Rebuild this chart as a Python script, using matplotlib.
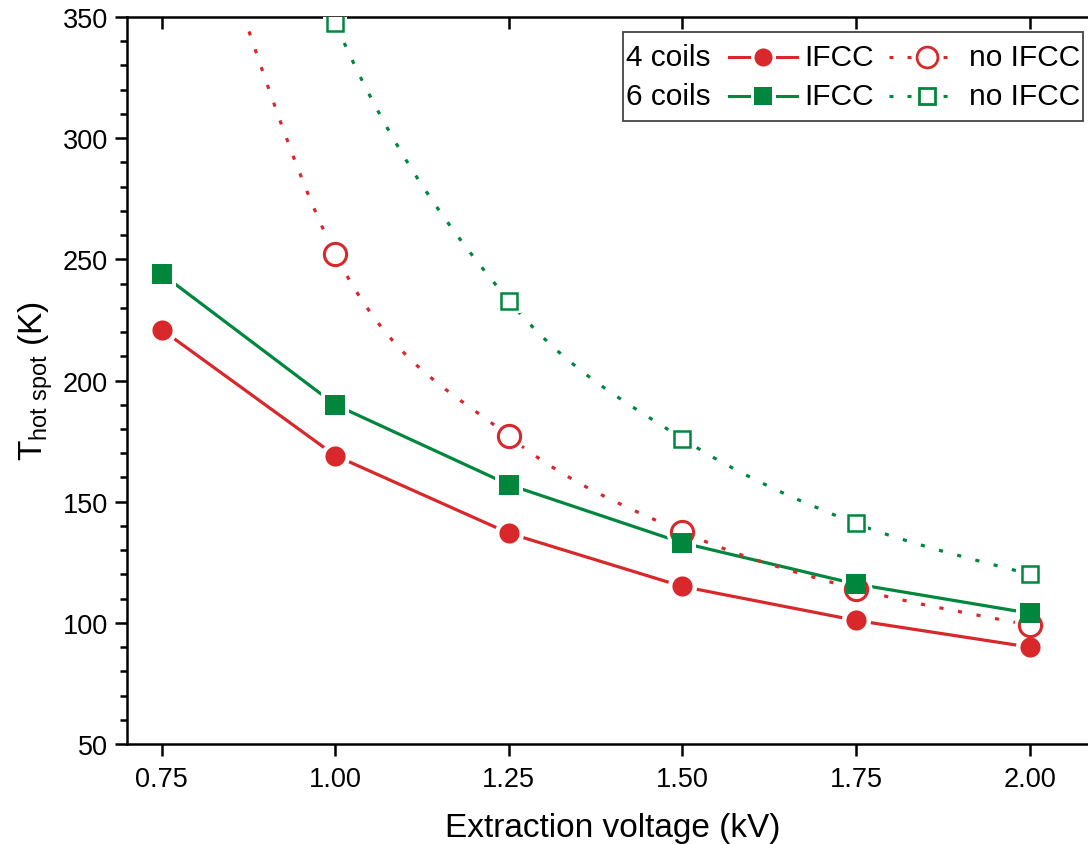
import numpy as np
import matplotlib
matplotlib.use("Agg")
import matplotlib.pyplot as plt
from matplotlib.path import Path
from matplotlib.patches import PathPatch
from matplotlib.lines import Line2D
from matplotlib.ticker import MultipleLocator, FormatStrFormatter
from matplotlib.offsetbox import TextArea, DrawingArea, HPacker, VPacker, AnchoredOffsetbox

plt.rcParams['font.family'] = ['Liberation Sans', 'DejaVu Sans']
plt.rcParams['mathtext.default'] = 'regular'

# data
voltage = [0.75, 1.00, 1.25, 1.50, 1.75, 2.00]
coils4_ifcc = [221, 169, 137, 115, 101, 90]
coils4_no_ifcc = [455, 252, 177, 137.5, 114, 99]
coils6_ifcc = [244, 190, 157, 133, 116, 104]
coils6_no_ifcc = [560, 347.5, 233, 176, 141, 120]

RED = '#d8282b'
GREEN = '#00873d'
DOTS = (0, (1.3, 4.6))


def smooth_path(x, y):
    # catmull-rom curve through the points, as bezier segments
    pts = np.column_stack([np.asarray(x, float), np.asarray(y, float)])
    n = len(pts)
    verts = [pts[0]]
    codes = [Path.MOVETO]
    for i in range(n - 1):
        p0 = pts[max(i - 1, 0)]
        p1 = pts[i]
        p2 = pts[i + 1]
        p3 = pts[min(i + 2, n - 1)]
        verts += [p1 + (p2 - p0) / 6, p2 - (p3 - p1) / 6, p2]
        codes += [Path.CURVE4] * 3
    return Path(verts, codes)


fig = plt.figure(figsize=(10.88, 8.45), dpi=100)
ax = fig.add_axes([127 / 1088, 100 / 845, (1099 - 127) / 1088, (745 - 18) / 845])

# lines
ax.plot(voltage, coils4_ifcc, color=RED, lw=2.3, zorder=2)
ax.plot(voltage, coils6_ifcc, color=GREEN, lw=2.3, zorder=2)
for yv, c in [(coils4_no_ifcc, RED), (coils6_no_ifcc, GREEN)]:
    ax.add_patch(PathPatch(smooth_path(voltage, yv), fill=False, edgecolor=c,
                           lw=2.3, linestyle=DOTS, zorder=2))

# white halos -> gaps between lines and symbols
ax.plot(voltage, coils4_ifcc, 'o', ms=21, color='white', mew=0, zorder=3)
ax.plot(voltage, coils6_ifcc, 's', ms=20, color='white', mew=0, zorder=3)
ax.plot(voltage, coils4_no_ifcc, 'o', ms=23, color='white', mew=0, zorder=3)
ax.plot(voltage, coils6_no_ifcc, 's', ms=17, color='white', mew=0, zorder=3)

# symbols
ax.plot(voltage, coils6_no_ifcc, 's', ms=11, mfc='white', mec=GREEN, mew=1.8, zorder=4)
ax.plot(voltage, coils4_no_ifcc, 'o', ms=16, mfc='white', mec=RED, mew=2.2, zorder=4)
ax.plot(voltage, coils4_ifcc, 'o', ms=14.5, color=RED, mew=0, zorder=5)
ax.plot(voltage, coils6_ifcc, 's', ms=14.5, color=GREEN, mew=0, zorder=5)

ax.set_xlim(0.7, 2.1)
ax.set_ylim(50, 350)
ax.set_xticks(voltage)
ax.xaxis.set_major_formatter(FormatStrFormatter('%.2f'))
ax.yaxis.set_major_locator(MultipleLocator(50))
ax.yaxis.set_minor_locator(MultipleLocator(10))

for s in ax.spines.values():
    s.set_linewidth(1.8)
ax.tick_params(axis='both', which='major', direction='out', length=8.6, width=1.8,
               labelsize=19.5, pad=5)
ax.tick_params(axis='y', which='minor', direction='out', length=5, width=1.8)
ax.tick_params(axis='x', which='major', top=True, direction='out', pad=7)
ax.tick_params(axis='y', which='major', right=True)
# inward ticks on top and right
for t in ax.xaxis.get_major_ticks():
    t.tick2line.set_marker(3)
    t.tick2line.set_markersize(8.6)
for t in ax.yaxis.get_major_ticks():
    t.tick2line.set_marker(1)
    t.tick2line.set_markersize(8.6)

ax.set_xlabel('Extraction voltage (kV)', fontsize=24, labelpad=15)
ax.set_ylabel('T$_{hot\\ spot}$ (K)', fontsize=24, labelpad=6)

# legend: two rows, text first, then the symbols
FS = 21.5


def handle(color, marker, ms, dotted=False, filled=True):
    da = DrawingArea(57, 16, 0, 0)
    if dotted:
        da.add_artist(Line2D([5, 57], [8, 8], color=color, lw=2.2, linestyle=DOTS))
    else:
        da.add_artist(Line2D([8, 57], [8, 8], color=color, lw=2.2))
    da.add_artist(Line2D([32.5], [8], marker=marker, ms=ms + 5, color='white', mew=0))
    if filled:
        da.add_artist(Line2D([32.5], [8], marker=marker, ms=ms, color=color, mew=0))
    else:
        da.add_artist(Line2D([32.5], [8], marker=marker, ms=ms, mfc='white', mec=color,
                             mew=2.0))
    return da


rows = []
for name, c, mk, ms_f, ms_o in [('4 coils', RED, 'o', 13, 15), ('6 coils', GREEN, 's', 13, 11)]:
    rows.append(HPacker(children=[TextArea(name, textprops=dict(fontsize=FS)),
                                  handle(c, mk, ms_f),
                                  TextArea('IFCC', textprops=dict(fontsize=FS)),
                                  handle(c, mk, ms_o, dotted=True, filled=False),
                                  TextArea('no IFCC', textprops=dict(fontsize=FS))],
                        sep=5.5, align='center'))
inner = VPacker(children=rows, sep=8.2, align='left')
box = VPacker(children=[DrawingArea(1, 5.8, 0, 0), inner, DrawingArea(1, 5.8, 0, 0)],
              sep=0, align='left')
leg = AnchoredOffsetbox(loc='upper right', child=box, pad=0.1, borderpad=0, frameon=True,
                        prop=dict(size=FS),
                        bbox_to_anchor=(1083 / 1088, 1 - 33 / 845),
                        bbox_transform=fig.transFigure)
leg.patch.set_boxstyle('square', pad=0)
leg.patch.set_edgecolor('#444444')
leg.patch.set_linewidth(1.3)
leg.zorder = 6
ax.add_artist(leg)

fig.savefig('out.png', dpi=100)
